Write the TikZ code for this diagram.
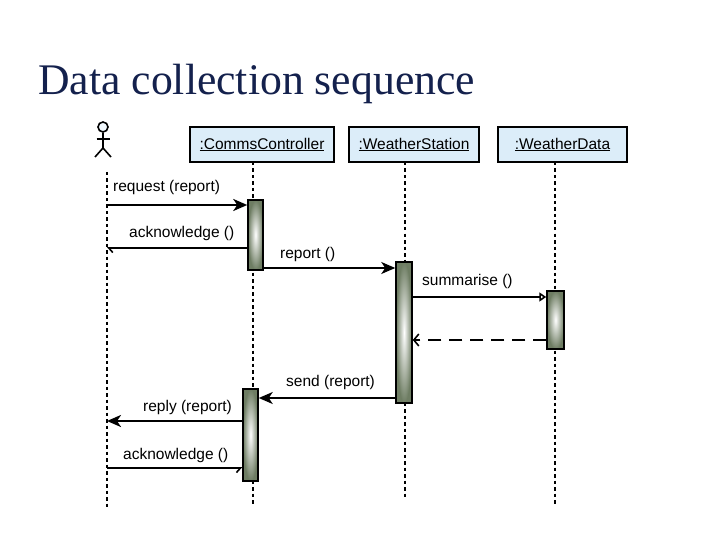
\documentclass[tikz,border=0pt]{standalone}
\usepackage{fontspec}
\setmainfont{Liberation Serif}
\newfontfamily\lsans{Liberation Sans}
\usetikzlibrary{arrows.meta}
\definecolor{titleblue}{HTML}{14214D}
\definecolor{objblue}{HTML}{DCEDF9}
\definecolor{barolive}{HTML}{6E7D63}
\tikzset{
  obj/.style={draw=black, line width=2.2pt, fill=objblue, minimum height=35pt, inner sep=0pt,
    font=\lsans\fontsize{15.5}{18}\selectfont},
  actbar/.style={draw=black, line width=1.5pt, inner sep=0pt, minimum width=15pt,
    inner color=white, outer color=barolive},
  life/.style={line width=2pt, dash pattern=on 3.5pt off 3pt},
  msglabel/.style={anchor=west, inner sep=0pt, font=\lsans\fontsize{15.5}{18}\selectfont},
  syncmsg/.style={line width=2pt, -{Stealth[length=14pt,width=12pt,inset=4pt]}},
  callmsg/.style={line width=1.8pt, -{Triangle[open,length=7pt,width=9pt,line width=1.6pt]}},
  retmsg/.style={line width=1.8pt, dash pattern=on 13pt off 8pt, -{Straight Barb[length=5pt,width=12pt,line width=1.6pt]}},
  harpmsg/.style={line width=1.8pt, -{Straight Barb[harpoon,length=4pt,width=9pt,line width=1.6pt]}},
  harpmsgswap/.style={line width=1.8pt, -{Straight Barb[harpoon,swap,length=4pt,width=9pt,line width=1.6pt]}},
}
\begin{document}
\begin{tikzpicture}[x=1pt,y=-1pt]
\useasboundingbox[fill=white] (0,0) rectangle (720,540);

% title
\node[anchor=base west, inner sep=0pt, text=titleblue, font=\fontsize{43.7}{50}\selectfont]
  (title) at (38,95) {Data collection sequence};

% actor
\node[circle, draw=black, line width=1.6pt, fill=objblue!40, minimum size=10pt, inner sep=0pt] (head) at (103,127) {};
\coordinate (hip) at (103,148);
\draw[line width=1.6pt] (head.south) -- (hip);
\draw[line width=1.6pt] (96.5,139) -- (110,139);
\draw[line width=1.6pt] (95,157) -- (hip) -- (111,157);

% objects
\node[obj, minimum width=144pt] (cc) at (262,144.5) {\underline{:CommsController}};
\node[obj, minimum width=130pt] (ws) at (414,144.5) {\underline{:WeatherStation}};
\node[obj, minimum width=129pt] (wd) at (562.5,144.5) {\underline{:WeatherData}};

% lifelines
\coordinate (actTop) at (107,172);
\coordinate (actBot) at (107,507);
\coordinate (ccTop) at (253,162);
\coordinate (ccBot) at (253,505);
\coordinate (wsTop) at (405,162);
\coordinate (wsBot) at (405,500);
\coordinate (wdTop) at (555,162);
\coordinate (wdBot) at (555,505);
\draw[life] (actTop) -- (actBot);
\draw[life] (ccTop) -- (ccBot);
\draw[life] (wsTop) -- (wsBot);
\draw[life] (wdTop) -- (wdBot);

% activation bars
\node[actbar, minimum height=70pt] (b1) at (255.5,235) {};
\node[actbar, minimum width=16pt, minimum height=141pt] (b2) at (404,332.5) {};
\node[actbar, minimum width=17pt, minimum height=58pt] (b3) at (555.5,320) {};
\node[actbar, minimum height=92pt] (b4) at (250.5,435) {};

% message rows
\coordinate (r1) at (107,205);
\coordinate (r2) at (107,248);
\coordinate (r3) at (0,268);
\coordinate (r4) at (0,297);
\coordinate (r5) at (0,340);
\coordinate (r6) at (0,398);
\coordinate (r7) at (107,421);
\coordinate (r8) at (107,468);

\draw[syncmsg, line width=2.4pt] (r1) -- (r1 -| b1.west);
\draw[harpmsg] (r2 -| b1.west) -- (r2);
\draw[syncmsg, line width=1.8pt] (r3 -| b1.east) -- (r3 -| b2.west);
\draw[callmsg] (r4 -| b2.east) -- (r4 -| b3.west);
\draw[retmsg] (r5 -| b3.west) -- (r5 -| b2.east);
\draw[syncmsg, line width=1.8pt] (r6 -| b2.west) -- (r6 -| b4.east);
\draw[syncmsg, line width=2.4pt] (r7 -| b4.west) -- (r7);
\draw[harpmsgswap] (r8) -- (r8 -| b4.west);

% labels
\node[msglabel] (l1) at (113,187) {request (report)};
\node[msglabel] (l2) at (129,233) {acknowledge ()};
\node[msglabel] (l3) at (280,254) {report ()};
\node[msglabel] (l4) at (422,281) {summarise ()};
\node[msglabel] (l6) at (286,382) {send (report)};
\node[msglabel] (l7) at (143,407) {reply (report)};
\node[msglabel] (l8) at (123,455) {acknowledge ()};
\end{tikzpicture}
\end{document}
